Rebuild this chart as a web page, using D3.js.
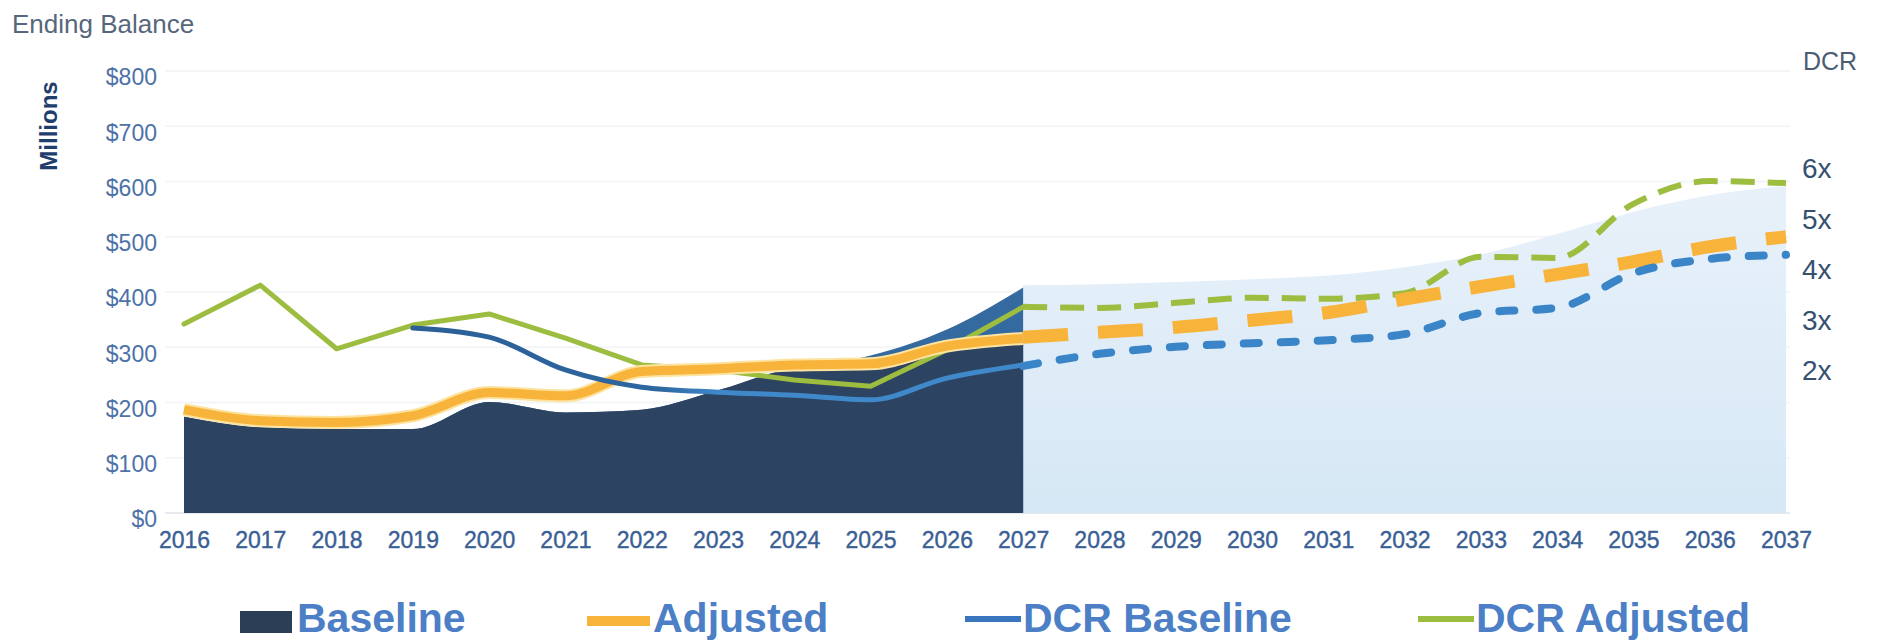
<!DOCTYPE html>
<html>
<head>
<meta charset="utf-8">
<script src="https://cdn.jsdelivr.net/npm/d3@7"></script>
<style>
  body { margin: 0; background: #ffffff; }
  svg { display: block; font-family: "Liberation Sans", Arial, sans-serif; }
</style>
</head>
<body>
<div id="chart"></div>
<script>
const years = [2016, 2017, 2018, 2019, 2020, 2021, 2022, 2023, 2024, 2025, 2026, 2027,
  2028, 2029, 2030, 2031, 2032, 2033, 2034, 2035, 2036, 2037]
const histYears = [2016, 2017, 2018, 2019, 2020, 2021, 2022, 2023, 2024, 2025, 2026, 2027]
const projYears = [2027, 2028, 2029, 2030, 2031, 2032, 2033, 2034, 2035, 2036, 2037]

// $ millions
const baseline = [174, 155, 152, 152, 201, 182, 187, 222, 262, 285, 332, 408]
const baselineProjected = [412, 414, 418, 423, 430, 445, 468, 505, 545, 575, 592]
const adjusted = [187, 167, 164, 176, 218, 212, 256, 261, 268, 270, 302, 316]
const adjustedProjected = [318, 327, 336, 349, 363, 387, 410, 432, 455, 482, 500]

// debt coverage ratio (x)
const dcrBaseline = [null, null, null, 2.85, 2.67, 2.02, 1.68, 1.58, 1.52, 1.43, 1.86, 2.12]
const dcrBaselineProjected = [2.10, 2.34, 2.48, 2.55, 2.61, 2.73, 3.15, 3.25, 3.94, 4.22, 4.30]
const dcrAdjusted = [2.93, 3.70, 2.44, 2.91, 3.13, 2.65, 2.12, 2.02, 1.82, 1.70, 2.42, 3.27]
const dcrAdjustedProjected = [3.27, 3.25, 3.35, 3.45, 3.43, 3.54, 4.26, 4.24, 5.31, 5.76, 5.72]

const dollarTicks = [0, 100, 200, 300, 400, 500, 600, 700, 800]
const dcrTicks = [2, 3, 4, 5, 6]
const legendItems = ["Baseline", "Adjusted", "DCR Baseline", "DCR Adjusted"]

const fullwidth = 1879, fullheight = 642
const navy = "#2c4361", midBlue = "#346a9f", orange = "#f8b33a", green = "#9dbd40"
const dcrBlue = "#3a84c8", labelBlue = "#3a5f95"

const svg = d3.select("#chart").append("svg")
  .attr("width", fullwidth)
  .attr("height", fullheight)

const x = d3.scaleLinear().domain([2016, 2037]).range([184, 1786])
const y = d3.scaleLinear().domain([0, 800]).range([513, 71])
const y2 = d3.scaleLinear().domain([2, 6]).range([371, 169])

const defs = svg.append("defs")
const projGrad = defs.append("linearGradient").attr("id", "projGrad")
  .attr("x1", 0).attr("x2", 0).attr("y1", 0).attr("y2", 1)
projGrad.append("stop").attr("offset", 0).attr("stop-color", "#e8f1fa")
projGrad.append("stop").attr("offset", 1).attr("stop-color", "#d6e8f5")

const dcrGrad = defs.append("linearGradient").attr("id", "dcrGrad")
  .attr("gradientUnits", "userSpaceOnUse")
  .attr("x1", x(2019)).attr("x2", x(2027)).attr("y1", 0).attr("y2", 0)
dcrGrad.append("stop").attr("offset", 0).attr("stop-color", "#2b5f96")
dcrGrad.append("stop").attr("offset", 0.4).attr("stop-color", "#2e66a0")
dcrGrad.append("stop").attr("offset", 0.5).attr("stop-color", "#3f88c9")
dcrGrad.append("stop").attr("offset", 1).attr("stop-color", "#3f88c9")

// faint gridlines
svg.append("g")
  .selectAll("line")
  .data(dollarTicks)
  .enter().append("line")
  .attr("x1", 165).attr("x2", 1790)
  .attr("y1", d => y(d)).attr("y2", d => y(d))
  .attr("stroke", d => d === 0 ? "#e6e9ee" : "#f4f5f7")
  .attr("stroke-width", 2)

// projected baseline (light)
const hist = histYears.map((yr, i) => ({ yr, v: baseline[i], a: adjusted[i] }))
const proj = projYears.map((yr, i) => ({ yr, v: baselineProjected[i] }))

svg.append("path")
  .datum(proj)
  .attr("fill", "url(#projGrad)")
  .attr("d", d3.area().x(d => x(d.yr)).y0(y(0)).y1(d => y(d.v)).curve(d3.curveMonotoneX))

// historical baseline
svg.append("path")
  .datum(hist)
  .attr("fill", midBlue)
  .attr("d", d3.area().x(d => x(d.yr)).y0(y(0)).y1(d => y(d.v)).curve(d3.curveMonotoneX))

svg.append("path")
  .datum(hist)
  .attr("fill", navy)
  .attr("d", d3.area().x(d => x(d.yr)).y0(y(0)).y1(d => y(Math.min(d.v, d.a))).curve(d3.curveMonotoneX))

// DCR adjusted
const dcrAdjLine = d3.line().x(d => x(d.yr)).y(d => y2(d.v))
svg.append("path")
  .datum(histYears.map((yr, i) => ({ yr, v: dcrAdjusted[i] })))
  .attr("fill", "none").attr("stroke", green).attr("stroke-width", 5)
  .attr("stroke-linejoin", "round").attr("stroke-linecap", "round")
  .attr("d", dcrAdjLine)
svg.append("path")
  .datum(projYears.map((yr, i) => ({ yr, v: dcrAdjustedProjected[i] })))
  .attr("fill", "none").attr("stroke", green).attr("stroke-width", 6)
  .attr("stroke-dasharray", "24 13")
  .attr("d", dcrAdjLine.curve(d3.curveMonotoneX))

// adjusted
const adjLine = d3.line().x(d => x(d.yr)).y(d => y(d.v)).curve(d3.curveMonotoneX)
const adjHist = histYears.map((yr, i) => ({ yr, v: adjusted[i] }))
const adjProj = projYears.map((yr, i) => ({ yr, v: adjustedProjected[i] }))
svg.append("path").datum(adjHist)
  .attr("fill", "none").attr("stroke", "#fde3a0").attr("stroke-width", 13)
  .attr("stroke-linejoin", "round").attr("d", adjLine)
svg.append("path").datum(adjHist)
  .attr("fill", "none").attr("stroke", orange).attr("stroke-width", 9)
  .attr("stroke-linejoin", "round").attr("d", adjLine)
svg.append("path").datum(adjProj)
  .attr("fill", "none").attr("stroke", orange).attr("stroke-width", 13)
  .attr("stroke-dasharray", "45 30").attr("d", adjLine)

// DCR baseline
const dcrBaseLine = d3.line().x(d => x(d.yr)).y(d => y2(d.v)).curve(d3.curveMonotoneX)
svg.append("path")
  .datum(histYears.map((yr, i) => ({ yr, v: dcrBaseline[i] })).filter(d => d.v !== null))
  .attr("fill", "none").attr("stroke", "url(#dcrGrad)").attr("stroke-width", 5)
  .attr("stroke-linecap", "round").attr("d", dcrBaseLine)
svg.append("path")
  .datum(projYears.map((yr, i) => ({ yr, v: dcrBaselineProjected[i] })))
  .attr("fill", "none").attr("stroke", dcrBlue).attr("stroke-width", 8)
  .attr("stroke-linecap", "round").attr("stroke-dasharray", "15 22")
  .attr("d", dcrBaseLine)

// axes
const yAxis = svg.append("g")
  .attr("transform", "translate(157,0)")
  .call(d3.axisLeft(y).tickValues(dollarTicks).tickSize(0).tickPadding(0).tickFormat(d => "$" + d))
yAxis.select(".domain").remove()
yAxis.selectAll("text")
  .attr("dy", "0.6em")
  .attr("font-size", 23).attr("fill", "#4d72a8")
  .attr("font-family", "Liberation Sans, Arial, sans-serif")

const xAxis = svg.append("g")
  .attr("transform", "translate(0,532)")
  .call(d3.axisBottom(x).tickValues(years).tickSize(0).tickPadding(0).tickFormat(d3.format("d")))
xAxis.select(".domain").remove()
xAxis.selectAll("text")
  .attr("font-size", 23).attr("fill", labelBlue)
  .attr("stroke", labelBlue).attr("stroke-width", 0.4)
  .attr("font-family", "Liberation Sans, Arial, sans-serif")

const rAxis = svg.append("g")
  .attr("transform", "translate(1802,0)")
  .call(d3.axisRight(y2).tickValues(dcrTicks).tickSize(0).tickPadding(0).tickFormat(d => d + "x"))
rAxis.select(".domain").remove()
rAxis.selectAll("text")
  .attr("font-size", 28).attr("fill", "#36506f")
  .attr("font-family", "Liberation Sans, Arial, sans-serif")

// titles
svg.append("text").attr("x", 12).attr("y", 33)
  .attr("font-size", 26).attr("fill", "#56677c").text("Ending Balance")
svg.append("text")
  .attr("transform", "translate(57,126) rotate(-90)")
  .attr("text-anchor", "middle").attr("font-size", 24).attr("font-weight", "bold")
  .attr("fill", "#1f3e6e").text("Millions")
svg.append("text").attr("x", 1803).attr("y", 70)
  .attr("font-size", 25).attr("fill", "#4c5d73").text("DCR")

// legend
const legendX = [240, 587, 965, 1418]
const legend = svg.append("g").attr("class", "legend")
  .selectAll("g")
  .data(legendItems)
  .enter().append("g")
  .attr("transform", (d, i) => `translate(${legendX[i]},0)`)

legend.each(function (d, i) {
  const g = d3.select(this)
  if (i === 0) {
    g.append("rect").attr("x", 0).attr("y", 611).attr("width", 52).attr("height", 22).attr("fill", "#2c3e55")
  } else if (i === 1) {
    g.append("line").attr("x1", 0).attr("x2", 63).attr("y1", 621).attr("y2", 621)
      .attr("stroke", orange).attr("stroke-width", 10)
  } else {
    g.append("line").attr("x1", 0).attr("x2", 56).attr("y1", 619).attr("y2", 619)
      .attr("stroke", i === 2 ? "#3a76c0" : green).attr("stroke-width", 6)
  }
  g.append("text")
    .attr("x", i === 0 ? 57 : i === 1 ? 66 : 58)
    .attr("y", 632)
    .attr("font-size", 41).attr("font-weight", "bold")
    .attr("fill", "#4c7fc6")
    .text(d)
})
</script>
</body>
</html>
